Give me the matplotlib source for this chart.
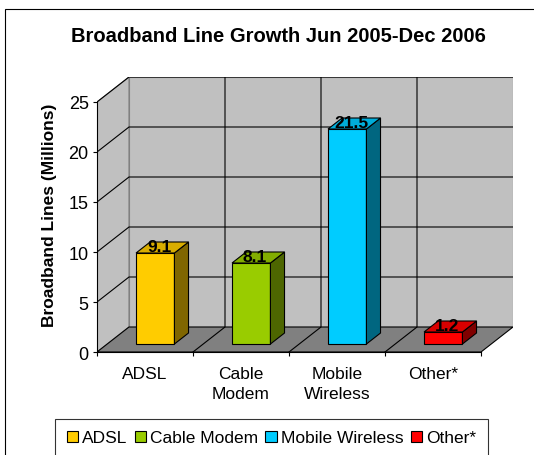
import numpy as np
import matplotlib.pyplot as plt
from matplotlib.patches import Polygon, Rectangle, Patch

plt.rcParams['font.family'] = ['Liberation Sans', 'DejaVu Sans']

# data
categories = ['ADSL', 'Cable Modem', 'Mobile Wireless', 'Other*']
tick_labels = ['ADSL', 'Cable\nModem', 'Mobile\nWireless', 'Other*']
values = [9.1, 8.1, 21.5, 1.2]
front_colors = ['#FFCC00', '#99CC00', '#00CCFF', '#FF0000']
y_ticks = [0, 5, 10, 15, 20, 25]

# fake 3d: depth vector in data units (x: categories, y: millions)
DX, DY = 1 / 3, 2.5
YMAX = 25
f0, f1 = 0.32, 0.76   # bar depth start/end (fraction of full depth)
bar_w = 0.4
FS = 12.5


def shade(c, k):
    r, g, b = plt.matplotlib.colors.to_rgb(c)
    return (r * k, g * k, b * k)


fig = plt.figure(figsize=(5.34, 4.56), dpi=100)
ax = fig.add_axes([97 / 534, 1 - 353 / 456, 416 / 534, 275 / 456])
n = len(categories)
ax.set_xlim(0, n + DX)
ax.set_ylim(0, YMAX + DY)

wall = '#C0C0C0'
# side wall
ax.add_patch(Polygon([(0, 0), (0, YMAX), (DX, YMAX + DY), (DX, DY)],
                     closed=True, fc=wall, ec='#808080', lw=0.8, zorder=1))
# back wall
ax.add_patch(Polygon([(DX, DY), (DX, YMAX + DY), (n + DX, YMAX + DY), (n + DX, DY)],
                     closed=True, fc=wall, ec='#808080', lw=0.8, zorder=1))
# floor
ax.add_patch(Polygon([(0, 0), (n, 0), (n + DX, DY), (DX, DY)],
                     closed=True, fc='#808080', ec='black', lw=0.8, zorder=1))

# gridlines
for yv in y_ticks[1:]:
    ax.plot([0, DX, n + DX], [yv, yv + DY, yv + DY], color='black', lw=0.8, zorder=2)
for k in range(1, n):
    ax.plot([k, k + DX, k + DX], [0, DY, YMAX + DY], color='black', lw=0.8, zorder=2)

# bars
for i, (v, c) in enumerate(zip(values, front_colors)):
    xl = i + 0.5 - bar_w / 2 + DX * f0
    xr = xl + bar_w
    yb = DY * f0
    yt = yb + v
    ddx, ddy = DX * (f1 - f0), DY * (f1 - f0)
    ax.add_patch(Rectangle((xl, yb), bar_w, v, fc=c, ec='black', lw=0.8, zorder=3))
    ax.add_patch(Polygon([(xr, yb), (xr, yt), (xr + ddx, yt + ddy), (xr + ddx, yb + ddy)],
                         closed=True, fc=shade(c, 0.5), ec='black', lw=0.8, zorder=3))
    ax.add_patch(Polygon([(xl, yt), (xr, yt), (xr + ddx, yt + ddy), (xl + ddx, yt + ddy)],
                         closed=True, fc=shade(c, 0.85), ec='black', lw=0.8, zorder=3))
    ax.text(i + 0.5 + DX * f0 + 0.04, yt - 0.1, f'{v:.1f}', ha='center', va='bottom',
            fontsize=FS, fontweight='bold', zorder=4)

# axes
for s in ['top', 'right']:
    ax.spines[s].set_visible(False)
ax.spines['left'].set_bounds(0, YMAX)
ax.spines['bottom'].set_bounds(0, n)
for s in ['left', 'bottom']:
    ax.spines[s].set_linewidth(0.8)
    ax.spines[s].set_zorder(5)
ax.set_yticks(y_ticks)
ax.set_yticklabels([str(t) for t in y_ticks], fontsize=13)
ax.tick_params(axis='y', length=3, width=0.8, pad=3)
ax.set_xticks(range(n + 1))
ax.set_xticklabels([])
ax.set_xticks(np.arange(n) + 0.5, minor=True)
ax.set_xticklabels(tick_labels, minor=True, fontsize=FS, linespacing=1.4)
ax.tick_params(axis='x', which='minor', length=0, pad=10)
ax.tick_params(axis='x', which='major', length=3, width=0.8)
ax.patch.set_visible(False)

ax.set_ylabel('Broadband Lines (Millions)', fontsize=FS, fontweight='bold', labelpad=8)

fig.text(278 / 534, 1 - 37 / 456, 'Broadband Line Growth Jun 2005-Dec 2006',
         ha='center', va='center', fontsize=14.5, fontweight='bold')

handles = [Patch(fc=c, ec='black', lw=0.8) for c in front_colors]
leg = fig.legend(handles, categories, loc='center', bbox_to_anchor=(271.5 / 534, 1 - 439 / 456),
                 ncol=4, fontsize=FS, frameon=True, fancybox=False, edgecolor='black',
                 handlelength=0.65, handleheight=0.65, handletextpad=0.25, columnspacing=0.4,
                 borderpad=0.65, borderaxespad=0)
leg.get_frame().set_linewidth(0.8)

# outer chart border (runs off the right and bottom edges)
fig.add_artist(Rectangle((5 / 534, -0.1), 1.0, 1 - 10 / 456 + 0.1, transform=fig.transFigure,
                         fill=False, ec='black', lw=0.8))

fig.savefig('out.png', dpi=100)
